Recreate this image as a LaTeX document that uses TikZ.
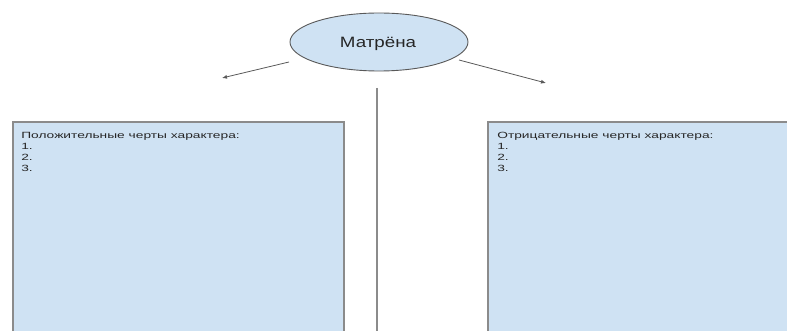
\documentclass[tikz,border=0pt]{standalone}
\usepackage{fontspec}
\setmainfont{Liberation Sans}
\usetikzlibrary{shapes.geometric,arrows.meta}
\definecolor{boxblue}{HTML}{CFE2F3}
\definecolor{lineg}{HTML}{595959}

\begin{document}
\begin{tikzpicture}[x=1pt,y=-1pt,
    trait/.style={draw=lineg!70,line width=1.6pt,fill=boxblue,minimum width=331pt,minimum height=240pt,anchor=north west,inner sep=0pt},
    traittext/.style={anchor=north west,align=left,inner sep=0pt,text=black!85,font=\fontsize{9}{11}\selectfont,xscale=1.53},
    arr/.style={draw=lineg,line width=0.8pt,-{Latex[length=5pt,width=4pt]}}]
    \clip (0,0) rectangle (787,331);
    \useasboundingbox (0,0) rectangle (787,331);

    \node[ellipse,draw=lineg,line width=0.9pt,fill=boxblue,minimum width=178pt,minimum height=58pt] (matr) at (379,42) {};
    \node[text=black!85,font=\fontsize{15}{18}\selectfont,xscale=1.25] (matrtext) at (378,44) {Матрёна};

    \coordinate (lstart) at (289,62);
    \coordinate (lend) at (222,78);
    \coordinate (rstart) at (459,60);
    \coordinate (rend) at (546,83);
    \draw[arr] (lstart) -- (lend);
    \draw[arr] (rstart) -- (rend);

    \coordinate (vtop) at (377,88);
    \coordinate (vbot) at (377,340);
    \draw[draw=lineg!70,line width=1.4pt] (vtop) -- (vbot);

    \node[trait] (pos) at (12,121) {};
    \node[traittext] (postext) at (21,132) {Положительные черты характера:\\1.\\2.\\3.};

    \node[trait] (neg) at (487,121) {};
    \node[traittext] (negtext) at (497,132) {Отрицательные черты характера:\\1.\\2.\\3.};
\end{tikzpicture}
\end{document}
